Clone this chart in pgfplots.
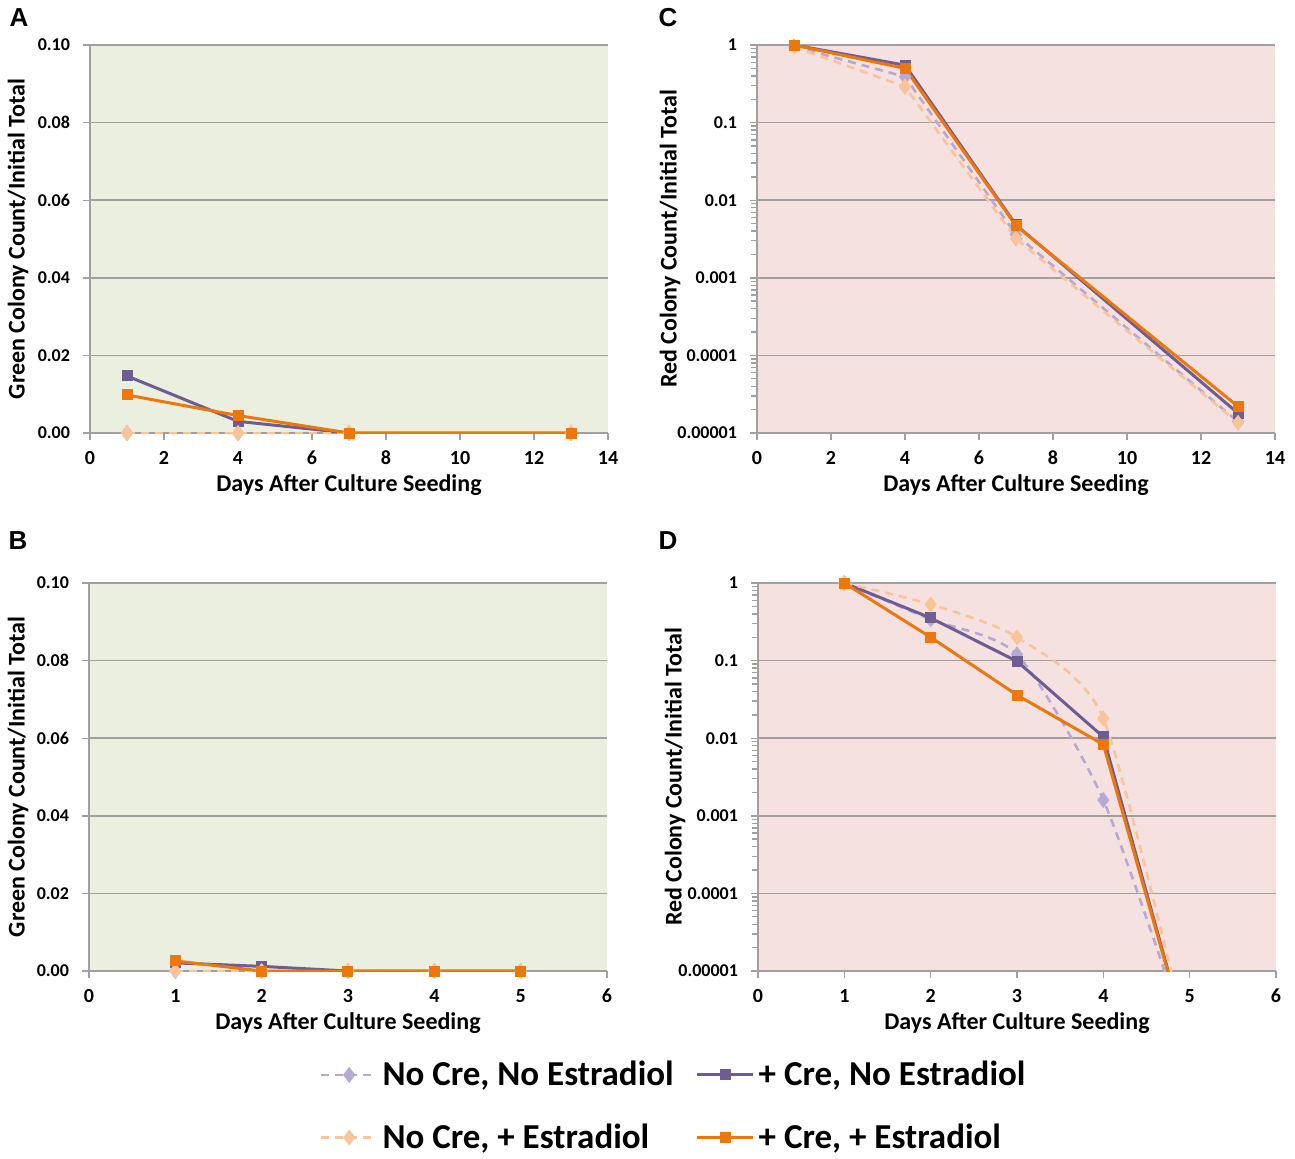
\documentclass[border=0pt]{standalone}
\usepackage{fontspec}
\setmainfont{Carlito}
\newfontfamily\arialfont{Liberation Sans}
\usepackage{pgfplots}
\pgfplotsset{compat=1.18}

\definecolor{greenbg}{RGB}{235,239,224}
\definecolor{redbg}{RGB}{244,225,224}
\definecolor{gridgray}{RGB}{160,160,160}
\definecolor{cpurple}{RGB}{110,92,148}
\definecolor{clpurple}{RGB}{182,170,212}
\definecolor{corange}{RGB}{236,120,12}
\definecolor{clorange}{RGB}{250,196,152}

\pgfplotsset{
  panel/.style={
    scale only axis, width=259pt, height=194pt,
    axis x line=bottom, axis y line=left,
    axis line style={draw=gridgray, line width=0.7pt, -},
    ymajorgrids, grid style={draw=gridgray, line width=0.8pt},
    tick style={draw=gridgray, line width=0.7pt},
    tick align=outside, major tick length=3.5pt,
    /pgf/number format/assume math mode=true,
    xticklabel style={font=\bfseries\fontsize{10}{10}\selectfont, yshift=-2pt},
    yticklabel style={font=\bfseries\fontsize{9}{9}\selectfont, xshift=-3pt},
    xlabel style={font=\bfseries\fontsize{12}{12}\selectfont, at={(axis description cs:0.5,0)}, anchor=center, yshift=-26pt},
    ylabel style={font=\bfseries\fontsize{12}{12}\selectfont, at={(axis description cs:0,0.5)}, anchor=center},
    xlabel={Days After Culture Seeding},
    legend image code/.code={\draw[mark repeat=2,mark phase=2,##1] plot coordinates {(0pt,0pt)(14pt,0pt)(28pt,0pt)};},
  },
  lp/.style={color=clpurple, line width=1.3pt, dash pattern=on 4pt off 3pt,
    mark=diamond*, mark size=3pt, mark options={solid}},
  lo/.style={color=clorange, line width=1.3pt, dash pattern=on 4pt off 3pt,
    mark=diamond*, mark size=3pt, mark options={solid}},
  sp/.style={color=cpurple, line width=1.5pt, mark=square*, mark size=2pt},
  so/.style={color=corange, line width=1.5pt, mark=square*, mark size=2pt},
}

\begin{document}
\begin{tikzpicture}
\path[use as bounding box] (0,0) rectangle (647.5pt,-579pt);

\node[font=\arialfont\bfseries\fontsize{13}{13}\selectfont] at (9.5pt,-9pt) {A};
\node[font=\arialfont\bfseries\fontsize{13}{13}\selectfont] at (334pt,-9pt) {C};
\node[font=\arialfont\bfseries\fontsize{13}{13}\selectfont] at (9pt,-270.5pt) {B};
\node[font=\arialfont\bfseries\fontsize{13}{13}\selectfont] at (334pt,-270.5pt) {D};

% Panel A
\begin{axis}[panel, at={(45pt,-216.5pt)}, anchor=south west,
  axis background/.style={fill=greenbg},
  xmin=0, xmax=14, xtick={0,2,...,14},
  ymin=0, ymax=0.1, ytick={0,0.02,0.04,0.06,0.08,0.1},
  yticklabels={0.00,0.02,0.04,0.06,0.08,0.10},
  ylabel={Green Colony Count/Initial Total},
  ylabel style={yshift=36pt}]
\addplot[lp] coordinates {(1,0) (4,0) (7,0) (13,0)};
\addplot[sp] coordinates {(1,0.0147) (4,0.0030) (7,0) (13,0)};
\addplot[lo] coordinates {(1,0) (4,0) (7,0) (13,0)};
\addplot[so] coordinates {(1,0.0098) (4,0.0045) (7,0) (13,0)};
\end{axis}

% Panel C
\begin{axis}[panel, at={(378.5pt,-216.5pt)}, anchor=south west,
  axis background/.style={fill=redbg},
  ymode=log, ymin=1e-5, ymax=1, ytick={1e-5,1e-4,1e-3,1e-2,1e-1,1},
  yticklabels={0.00001,0.0001,0.001,0.01,0.1,1},
  ylabel={Red Colony Count/Initial Total},
  xmin=0, xmax=14, xtick={0,2,...,14},
  ylabel style={yshift=43.5pt}]
\addplot[lp] coordinates {(1,0.96) (4,0.39) (7,0.0036) (13,1.4e-5)};
\addplot[sp] coordinates {(1,1) (4,0.55) (7,0.0048) (13,1.8e-5)};
\addplot[lo] coordinates {(1,0.95) (4,0.29) (7,0.0032) (13,1.35e-5)};
\addplot[so] coordinates {(1,1) (4,0.50) (7,0.0047) (13,2.2e-5)};
\end{axis}

% Panel B
\begin{axis}[panel, at={(44.5pt,-485.5pt)}, anchor=south west,
  axis background/.style={fill=greenbg},
  xmin=0, xmax=6, xtick={0,1,...,6},
  ymin=0, ymax=0.1, ytick={0,0.02,0.04,0.06,0.08,0.1},
  yticklabels={0.00,0.02,0.04,0.06,0.08,0.10},
  ylabel={Green Colony Count/Initial Total},
  ylabel style={yshift=35.5pt},
  legend columns=2,
  legend style={at={(0.445,-0.221)}, anchor=north west, draw=none, fill=none,
    font=\bfseries\fontsize{17.5}{17.5}\selectfont, row sep=13.5pt, inner sep=0pt,
    /tikz/every odd column/.append style={column sep=0pt},
    /tikz/every even column/.append style={column sep=9pt}},
  legend cell align=left]
\addplot[lp] coordinates {(1,0) (2,0) (3,0) (4,0) (5,0)};
\addlegendentry{No Cre, No Estradiol}
\addplot[sp] coordinates {(1,0.0021) (2,0.0012) (3,0) (4,0) (5,0)};
\addlegendentry{+ Cre, No Estradiol}
\addplot[lo] coordinates {(1,0) (2,0) (3,0) (4,0) (5,0)};
\addlegendentry{No Cre, + Estradiol}
\addplot[so] coordinates {(1,0.0026) (2,0) (3,0) (4,0) (5,0)};
\addlegendentry{+ Cre, + Estradiol}
\end{axis}

% Panel D
\begin{axis}[panel, at={(379pt,-485.5pt)}, anchor=south west,
  axis background/.style={fill=redbg},
  ymode=log, ymin=1e-5, ymax=1, ytick={1e-5,1e-4,1e-3,1e-2,1e-1,1},
  yticklabels={0.00001,0.0001,0.001,0.01,0.1,1},
  ylabel={Red Colony Count/Initial Total},
  xmin=0, xmax=6, xtick={0,1,...,6},
  ylabel style={yshift=41.5pt}]
\addplot[lp, smooth, tension=0.4] coordinates {(1,1) (2,0.34) (3,0.12) (4,0.0016) (5,1.1e-6)};
\addplot[sp] coordinates {(1,1) (2,0.355) (3,0.098) (4,0.0104) (5,1e-6)};
\addplot[lo, smooth, tension=0.4] coordinates {(1,1) (2,0.53) (3,0.20) (4,0.018) (5,1e-6)};
\addplot[so] coordinates {(1,1) (2,0.20) (3,0.036) (4,0.0083) (5,1e-6)};
\end{axis}
\end{tikzpicture}
\end{document}
